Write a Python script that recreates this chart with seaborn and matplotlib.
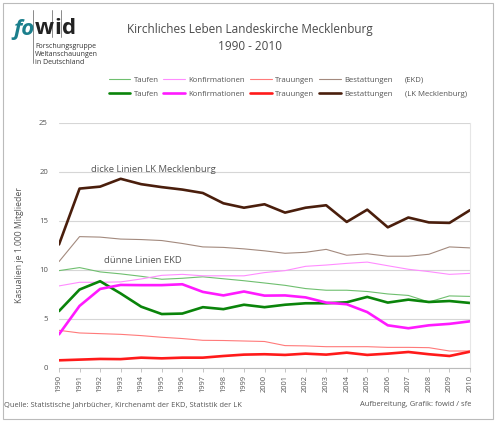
import numpy as np
import pandas as pd
import seaborn as sns
import matplotlib.pyplot as plt
from matplotlib.lines import Line2D
from matplotlib.patches import Rectangle

years = list(range(1990, 2011))

# EKD (duenne Linien)
taufen_ekd = [9.93, 10.24, 9.8, 9.6, 9.35, 9.05, 9.15, 9.3, 9.1, 8.9, 8.67,
              8.43, 8.1, 7.93, 7.93, 7.8, 7.55, 7.4, 6.73, 7.35, 7.3]
konfirm_ekd = [8.37, 8.74, 8.74, 8.78, 9.08, 9.45, 9.55, 9.4, 9.4, 9.4, 9.73,
               9.93, 10.37, 10.5, 10.67, 10.8, 10.43, 10.07, 9.83, 9.55, 9.65]
trau_ekd = [3.84, 3.57, 3.5, 3.43, 3.3, 3.13, 3.0, 2.82, 2.8, 2.75, 2.7,
            2.28, 2.25, 2.17, 2.17, 2.17, 2.1, 2.1, 2.07, 1.73, 1.73]
bestatt_ekd = [10.85, 13.4, 13.35, 13.15, 13.1, 13.0, 12.7, 12.35, 12.3, 12.15, 11.95,
               11.7, 11.8, 12.1, 11.5, 11.65, 11.4, 11.4, 11.6, 12.35, 12.25]

# LK Mecklenburg (dicke Linien)
taufen_lk = [5.8, 8.0, 8.85, 7.6, 6.25, 5.5, 5.55, 6.2, 6.0, 6.45, 6.2,
             6.45, 6.6, 6.6, 6.7, 7.25, 6.67, 6.97, 6.73, 6.83, 6.63]
konfirm_lk = [3.43, 6.33, 8.06, 8.47, 8.45, 8.45, 8.54, 7.76, 7.4, 7.8, 7.38,
              7.4, 7.2, 6.67, 6.5, 5.7, 4.35, 4.05, 4.35, 4.5, 4.76]
trau_lk = [0.78, 0.85, 0.92, 0.9, 1.05, 0.98, 1.05, 1.05, 1.22, 1.36, 1.4,
           1.33, 1.46, 1.36, 1.56, 1.33, 1.46, 1.63, 1.4, 1.22, 1.66]
bestatt_lk = [12.6, 18.3, 18.5, 19.3, 18.75, 18.45, 18.2, 17.85, 16.8, 16.35, 16.7,
              15.85, 16.35, 16.6, 14.9, 16.15, 14.35, 15.35, 14.85, 14.8, 16.1]

kasualien = ["Taufen", "Konfirmationen", "Trauungen", "Bestattungen"]
ekd_series = [taufen_ekd, konfirm_ekd, trau_ekd, bestatt_ekd]
lk_series = [taufen_lk, konfirm_lk, trau_lk, bestatt_lk]
ekd_colors = ["#6fbf6f", "#ff8cff", "#ff7a7a", "#a38a7e"]
lk_colors = ["#0a840a", "#ff1aff", "#ff1a1a", "#4a1e0c"]

sns.set_style("white")
plt.rcParams['font.family'] = ['Open Sans', 'DejaVu Sans']
grey = "#555555"

fig = plt.figure(figsize=(5, 4.21), dpi=100)
ax = fig.add_axes([0.118, 0.126, 0.822, 0.582])

handles = []
for name, vals, col in zip(kasualien, ekd_series, ekd_colors):
    sns.lineplot(x=years, y=vals, color=col, linewidth=0.8, ax=ax)
for name, vals, col in zip(kasualien, lk_series, lk_colors):
    sns.lineplot(x=years, y=vals, color=col, linewidth=1.9, ax=ax)
for name, c1, c2 in zip(kasualien, ekd_colors, lk_colors):
    handles.append(Line2D([], [], color=c1, linewidth=0.8, label=name))
    handles.append(Line2D([], [], color=c2, linewidth=1.9, label=name))

ax.set_xlim(1990, 2010)
ax.set_ylim(0, 25)
ax.set_yticks([0, 5, 10, 15, 20, 25])
ax.set_xticks(years)
ax.set_xticklabels([str(y) for y in years], rotation=90, fontsize=5.4, color=grey)
ax.tick_params(axis='y', labelsize=5.6, labelcolor=grey, length=0, pad=8)
ax.tick_params(axis='x', length=3, width=0.6, color="#bbbbbb", pad=2, bottom=True)
ax.yaxis.grid(True, color="#d6d6d6", linewidth=0.8)
ax.set_ylabel("Kasualien je 1.000 Mitglieder", fontsize=6.2, color=grey, labelpad=11)
for s in ["top", "left"]:
    ax.spines[s].set_visible(False)
ax.spines["bottom"].set_color("#bbbbbb")
ax.spines["bottom"].set_linewidth(0.8)
ax.spines["right"].set_color("#e6e6e6")
ax.spines["right"].set_linewidth(0.8)

ax.text(1994.6, 20.2, "dicke Linien LK Mecklenburg", fontsize=6.8, color=grey,
        ha="center", va="center")
ax.text(1994.1, 11.0, "dünne Linien EKD", fontsize=6.8, color=grey,
        ha="center", va="center")

leg = fig.legend(handles=handles, ncol=4, loc="upper left",
                 bbox_to_anchor=(0.217, 0.818), frameon=False, fontsize=5.6,
                 handlelength=2.8, handletextpad=0.45, columnspacing=0.6,
                 labelspacing=0.85, borderaxespad=0, borderpad=0)
for t in leg.get_texts():
    t.set_color(grey)
fig.text(0.81, 1 - 80 / 421, "(EKD)", fontsize=5.6, color=grey, va="center")
fig.text(0.81, 1 - 94 / 421, "(LK Mecklenburg)", fontsize=5.6, color=grey, va="center")

# title
fig.text(0.5, 1 - 29 / 421, "Kirchliches Leben Landeskirche Mecklenburg",
         fontsize=8.5, color="#4a4a4a", ha="center", va="center")
fig.text(0.5, 1 - 46 / 421, "1990 - 2010", fontsize=8.5, color="#4a4a4a",
         ha="center", va="center")

# logo
fig.text(13 / 500, 1 - 29 / 421, "fo", fontsize=16, color="#1b7f8c",
         fontweight="bold", style="italic", va="center")
fig.text(35 / 500, 1 - 29 / 421, "w", fontsize=16, color="#222222",
         fontweight="bold", va="center")
fig.text(54 / 500, 1 - 29 / 421, "i", fontsize=16, color="#222222",
         fontweight="bold", va="center")
fig.text(62 / 500, 1 - 29 / 421, "d", fontsize=16, color="#222222",
         fontweight="bold", va="center")
for xv, y0, y1 in [(33, 10, 63), (52, 10, 37), (61, 10, 37)]:
    fig.add_artist(Line2D([xv / 500, xv / 500], [1 - y0 / 421, 1 - y1 / 421],
                          color="#777777", linewidth=0.6))
for i, line in enumerate(["Forschungsgruppe", "Weltanschauungen", "in Deutschland"]):
    fig.text(35 / 500, 1 - (47 + i * 7.5) / 421, line, fontsize=5,
             color="#333333", va="center")

# footer
fig.text(4.5 / 500, 1 - 405 / 421,
         "Quelle: Statistische Jahrbücher, Kirchenamt der EKD, Statistik der LK",
         fontsize=5.4, color=grey, va="center")
fig.text(471 / 500, 1 - 405 / 421, "Aufbereitung, Grafik: fowid / sfe",
         fontsize=5.4, color=grey, va="center", ha="right")

fig.add_artist(Rectangle((3 / 500, 1 - 419 / 421), 490 / 500, 416 / 421,
                         fill=False, edgecolor="#bbbbbb", linewidth=0.8,
                         transform=fig.transFigure))

fig.savefig("out.png", dpi=100)
